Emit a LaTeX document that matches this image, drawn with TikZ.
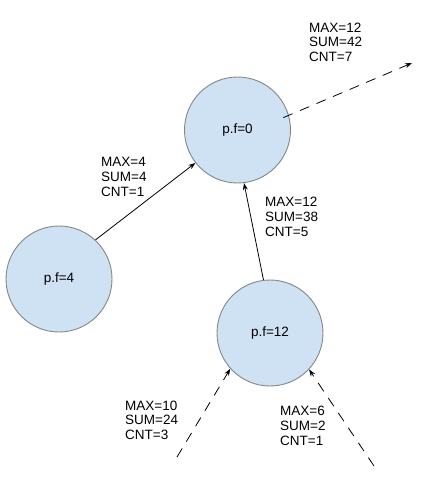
\documentclass[tikz,border=0pt]{standalone}
\usepackage{fontspec}
\setmainfont{Liberation Sans}
\usetikzlibrary{arrows.meta}
\definecolor{cfill}{HTML}{CFE2F3}
\definecolor{cborder}{HTML}{858585}
\tikzset{
  pnode/.style={circle, draw=cborder, fill=cfill, line width=0.9pt, minimum size=106pt, inner sep=0pt, font=\fontsize{13.5}{15}\selectfont},
  lbl/.style={anchor=north west, inner sep=0pt, align=left, font=\fontsize{13.5}{14.8}\selectfont},
  conn/.style={line width=0.8pt, -{Stealth[length=7pt,width=5pt]}},
  dconn/.style={conn, dash pattern=on 10pt off 8pt}
}
\begin{document}
\begin{tikzpicture}[x=1pt,y=-1pt]
\useasboundingbox (0,0) rectangle (425,482);
\node[pnode] (t) at (237.5,130) {p.f=0};
\node[pnode] (l) at (59,279) {p.f=4};
\node[pnode] (b) at (270,333) {p.f=12};
\coordinate (out) at (412,63);
\coordinate (inl) at (177,457);
\coordinate (inr) at (374,466);
\draw[conn] (l.47) -- (t.218.7);
\draw[conn] (b.97.5) -- (t.277.4);
\draw[dconn, shorten <=-6pt] (t.16) -- (out);
\draw[dconn] (inl) -- (b.222.8);
\draw[dconn] (inr) -- (b.317.3);
\node[lbl] (l1) at (309,22.5) {MAX=12\\SUM=42\\CNT=7};
\node[lbl] (l2) at (101,157) {MAX=4\\SUM=4\\CNT=1};
\node[lbl] (l3) at (265,197) {MAX=12\\SUM=38\\CNT=5};
\node[lbl] (l4) at (125,400.5) {MAX=10\\SUM=24\\CNT=3};
\node[lbl] (l5) at (280,406) {MAX=6\\SUM=2\\CNT=1};
\end{tikzpicture}
\end{document}
